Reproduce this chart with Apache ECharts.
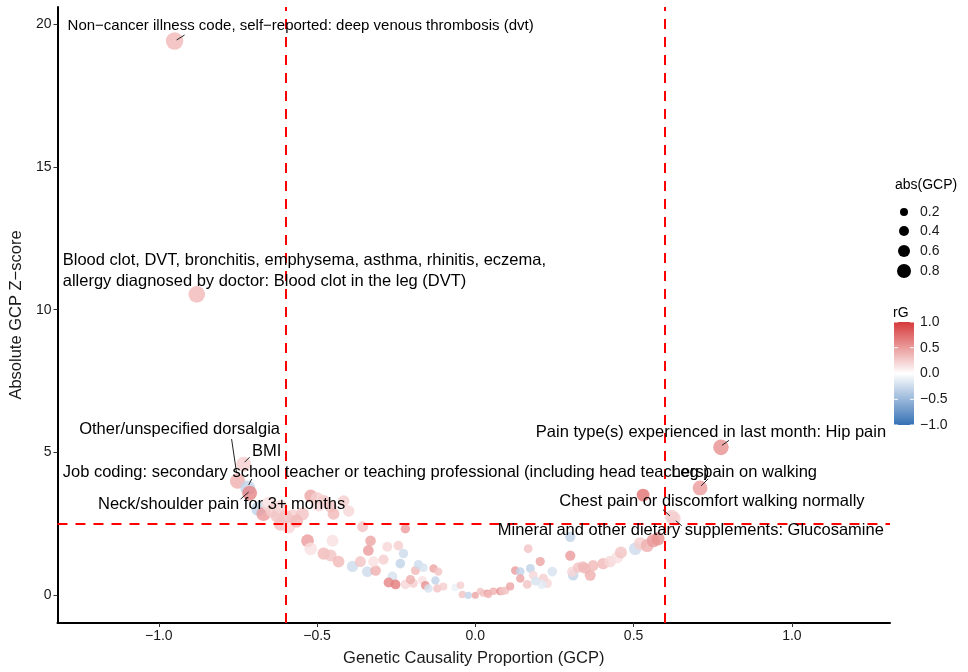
<!DOCTYPE html>
<html>
<head>
<meta charset="utf-8">
<script src="https://cdn.jsdelivr.net/npm/echarts@6/dist/echarts.min.js"></script>
<style>
html,body{margin:0;padding:0;background:#fff;}
#chart{width:968px;height:672px;}
</style>
</head>
<body>
<div id="chart"></div>
<script>
// ---- data ----
var gcp = [
 -0.685,-0.669,-0.653,-0.640,-0.625,-0.615,-0.615,-0.590,-0.577,-0.546,-0.520,-0.479,-0.457,-0.448,-0.416,
 -0.530,-0.520,-0.451,-0.479,-0.457,-0.432,-0.388,-0.363,-0.356,-0.341,-0.338,-0.331,-0.315,-0.322,
 -0.278,-0.243,-0.227,-0.237,-0.221,-0.189,-0.180,-0.164,-0.132,-0.117,
 -0.262,-0.274,-0.252,-0.221,-0.196,-0.167,-0.158,-0.148,-0.126,-0.120,-0.101,-0.063,-0.047,-0.041,-0.022,
 0.000,0.016,0.025,0.038,0.041,0.057,0.079,0.085,0.095,0.110,
 0.126,0.142,0.142,0.174,0.167,0.183,0.205,0.215,0.227,0.211,0.164,0.243,
 0.300,0.300,0.309,0.306,0.325,0.347,0.363,0.372,0.404,0.426,0.448,0.505,0.521,0.543,0.562,0.577,0.530,
 -0.500,-0.400,-0.565,-0.600,-0.495,-0.290,-0.205,0.190,0.460,0.340,
 -0.950,-0.880,-0.751,-0.732,-0.719,-0.713,0.776,0.710,0.621,0.627
];
var zscore = [
 3.03,2.85,3.20,2.96,2.78,3.10,2.50,2.40,2.78,2.85,3.48,3.30,3.10,2.85,3.30,
 1.91,1.63,1.91,1.46,1.39,1.18,1.01,1.18,2.40,0.83,1.57,1.91,0.87,1.18,
 1.70,1.74,1.46,1.11,2.33,0.87,1.08,0.97,0.94,0.83,
 0.66,0.45,0.38,0.38,0.42,0.52,0.35,0.24,0.52,0.24,0.31,0.28,0.35,0.03,0.00,
 0.00,0.14,0.07,0.07,0.03,0.14,0.14,0.14,0.17,0.31,
 0.87,0.83,0.59,0.94,1.63,0.70,1.18,0.59,0.42,0.38,0.38,0.83,
 2.05,1.39,0.70,0.83,0.97,0.94,0.70,1.04,1.11,1.18,1.32,1.63,1.81,1.74,1.91,1.98,3.51,
 3.40,2.95,2.60,2.75,3.15,1.25,0.55,0.50,1.50,1.00,
 19.41,10.54,4.00,4.59,3.76,3.58,5.18,3.76,2.75,2.68
];
var rg = [
 -0.30,0.50,0.15,0.25,0.30,0.20,0.30,0.20,0.25,0.30,0.45,0.30,0.30,0.35,0.25,
 0.50,0.15,0.15,0.35,0.30,0.35,-0.25,0.30,0.30,-0.25,0.50,0.45,0.40,0.15,
 0.20,0.25,-0.25,-0.30,0.50,0.35,-0.25,-0.20,0.45,0.30,
 -0.20,0.60,0.65,0.20,0.25,0.15,0.55,-0.20,-0.30,0.30,0.25,-0.10,0.25,0.30,-0.30,
 0.45,0.30,0.30,0.50,0.35,0.40,0.60,0.30,0.30,0.45,
 0.50,-0.30,0.45,-0.30,0.30,0.20,0.45,0.25,0.20,-0.15,0.30,-0.20,
 -0.30,0.50,-0.30,0.20,0.30,0.35,0.40,0.35,0.35,0.20,0.15,-0.25,0.25,0.40,0.50,0.55,0.70,
 0.25,0.20,0.35,0.30,0.20,0.25,0.40,-0.20,0.30,0.35,
 0.35,0.35,0.40,0.25,-0.30,0.60,0.55,0.50,0.25,0.25
];
var xTicks = [-1.0, -0.5, 0.0, 0.5, 1.0];
var yTicks = [0, 5, 10, 15, 20];
var gcpThresholds = [-0.6, 0.6];
var zThreshold = 2.5;
var sizeLegendValues = [0.2, 0.4, 0.6, 0.8];
var rgTicks = [1.0, 0.5, 0.0, -0.5, -1.0];

// annotated traits: index into the arrays above
var annotations = [
 {idx: 103, text: 'Non\u2212cancer illness code, self\u2212reported: deep venous thrombosis (dvt)'},
 {idx: 104, text: 'Blood clot, DVT, bronchitis, emphysema, asthma, rhinitis, eczema,\nallergy diagnosed by doctor: Blood clot in the leg (DVT)'},
 {idx: 105, text: 'Other/unspecified dorsalgia'},
 {idx: 106, text: 'BMI'},
 {idx: 107, text: 'Job coding: secondary school teacher or teaching professional (including head teachers)'},
 {idx: 108, text: 'Neck/shoulder pain for 3+ months'},
 {idx: 109, text: 'Pain type(s) experienced in last month: Hip pain'},
 {idx: 110, text: 'Leg pain on walking'},
 {idx: 111, text: 'Chest pain or discomfort walking normally'},
 {idx: 112, text: 'Mineral and other dietary supplements: Glucosamine'}
];
// label placement (pixel offsets from point), kept apart from data
var labelLayout = [
 {align:'center', dx:126, dy:-15, fs:15, seg:[2,-1,10,-6]},
 {align:'left', dx:-134, dy:-23, fs:16.5, seg:null},
 {align:'center', dx:-58, dy:-52, fs:16.5, seg:[-6,-42,-1,-8]},
 {align:'center', dx:23, dy:-13, fs:16.5, seg:[1,-2,6,-7]},
 {align:'left', dx:-185, dy:-15, fs:16.5, seg:[1,-3,4,-9]},
 {align:'center', dx:-28, dy:11, fs:16.5, seg:[-9,6,-1,-1]},
 {align:'center', dx:-10, dy:-15, fs:16.5, seg:[1,-2,8,-7]},
 {align:'center', dx:44, dy:-15, fs:16.5, seg:[1,-2,8,-9]},
 {align:'center', dx:40, dy:-15, fs:16.5, seg:[-2,-1,-9,-7]},
 {align:'center', dx:17, dy:12, fs:16.5, seg:[2,2,8,7]}
];

var lowC = '#3571B5', midC = '#FFFFFF', highC = '#D6393A';
var FONT = '"Liberation Sans", Arial, sans-serif';
function sizeOf(a){ return 7 + 11 * Math.abs(a); }

var points = gcp.map(function(x, i){ return [x, zscore[i], rg[i]]; });

var chart = echarts.init(document.getElementById('chart'));
var option = {
  animation: false,
  grid: {left: 57, right: 78, top: 7, bottom: 38, containLabel: false},
  xAxis: {
    type: 'value', min: -1.32, max: 1.31,
    splitLine: {show: false},
    axisLine: {show: true, onZero: false, lineStyle: {color: '#000', width: 2}},
    axisTick: {show: true, length: 4, customValues: xTicks, lineStyle: {color: '#333', width: 1}},
    axisLabel: {customValues: xTicks, color: '#1a1a1a', fontSize: 14, fontFamily: FONT, margin: 6,
      formatter: function(v){ return (v < 0 ? '\u2212' : '') + Math.abs(v).toFixed(1); }},
    name: 'Genetic Causality Proportion (GCP)', nameLocation: 'middle', nameGap: 27,
    nameTextStyle: {color: '#1a1a1a', fontSize: 16.5, fontFamily: FONT}
  },
  yAxis: {
    type: 'value', min: -0.97, max: 20.6,
    splitLine: {show: false},
    axisLine: {show: true, onZero: false, lineStyle: {color: '#000', width: 2}},
    axisTick: {show: true, length: 4, customValues: yTicks, lineStyle: {color: '#333', width: 1}},
    axisLabel: {customValues: yTicks, color: '#1a1a1a', fontSize: 14, fontFamily: FONT, margin: 6},
    name: 'Absolute GCP Z\u2212score', nameLocation: 'middle', nameGap: 30, nameRotate: 90,
    nameTextStyle: {color: '#1a1a1a', fontSize: 16.5, fontFamily: FONT}
  },
  visualMap: {
    show: false, type: 'continuous', dimension: 2, min: -1, max: 1,
    inRange: {color: [lowC, midC, highC]}, seriesIndex: 0
  },
  series: [{
    type: 'scatter',
    data: points,
    symbolSize: function(v){ return sizeOf(v[0]); },
    itemStyle: {opacity: 0.82},
    silent: true,
    markLine: {
      silent: true, symbol: 'none', label: {show: false},
      lineStyle: {color: '#FF0000', width: 2, type: [10, 8]},
      data: gcpThresholds.map(function(t){ return {xAxis: t}; }).concat([{yAxis: zThreshold}])
    },
    z: 2
  }]
};
chart.setOption(option);

// annotations & legends
var g = [];
annotations.forEach(function(a, k){
  var L = labelLayout[k];
  var p = chart.convertToPixel({gridIndex: 0}, [gcp[a.idx], zscore[a.idx]]);
  if (L.seg) {
    g.push({type: 'line', z: 10, silent: true,
      shape: {x1: p[0] + L.seg[0], y1: p[1] + L.seg[1], x2: p[0] + L.seg[2], y2: p[1] + L.seg[3]},
      style: {stroke: '#222', lineWidth: 1}});
  }
  g.push({type: 'text', z: 11, silent: true, x: p[0] + L.dx, y: p[1] + L.dy,
    style: {text: a.text, fill: '#000', font: L.fs + 'px ' + FONT, textAlign: L.align, textVerticalAlign: 'middle', lineHeight: 21}});
});

// size legend
g.push({type: 'text', x: 895, y: 185, style: {text: 'abs(GCP)', fill: '#000', font: '14px ' + FONT, textVerticalAlign: 'middle'}});
var legY = [212, 231, 251, 271];
sizeLegendValues.forEach(function(v, i){
  g.push({type: 'circle', shape: {cx: 904, cy: legY[i], r: (6 + 10 * v) / 2}, style: {fill: '#000'}});
  g.push({type: 'text', x: 920, y: legY[i], style: {text: v.toFixed(1), fill: '#1a1a1a', font: '14px ' + FONT, textVerticalAlign: 'middle'}});
});

// colour bar
g.push({type: 'text', x: 893, y: 313, style: {text: 'rG', fill: '#000', font: '14px ' + FONT, textVerticalAlign: 'middle'}});
var barTop = 322, barBot = 425, barX = 894, barW = 20;
g.push({type: 'rect', shape: {x: barX, y: barTop, width: barW, height: barBot - barTop},
  style: {fill: new echarts.graphic.LinearGradient(0, 0, 0, 1, [
    {offset: 0, color: highC}, {offset: 0.5, color: midC}, {offset: 1, color: lowC}])}});
rgTicks.forEach(function(v){
  var yy = barTop + (1 - v) / 2 * (barBot - barTop);
  g.push({type: 'line', shape: {x1: barX, y1: yy, x2: barX + 4, y2: yy}, style: {stroke: '#fff', lineWidth: 1}});
  g.push({type: 'line', shape: {x1: barX + barW - 4, y1: yy, x2: barX + barW, y2: yy}, style: {stroke: '#fff', lineWidth: 1}});
  g.push({type: 'text', x: 920, y: yy, style: {text: (v < 0 ? '\u2212' : '') + Math.abs(v).toFixed(1), fill: '#1a1a1a', font: '14px ' + FONT, textVerticalAlign: 'middle'}});
});

chart.setOption({graphic: {elements: g}});
</script>
</body>
</html>
